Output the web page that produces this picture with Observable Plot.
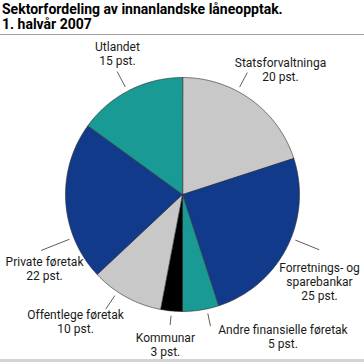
<!DOCTYPE html>
<html>
<head>
<meta charset="utf-8">
<script src="https://cdn.jsdelivr.net/npm/d3@7"></script>
<script src="https://cdn.jsdelivr.net/npm/@observablehq/plot@0.6"></script>
<style>
  html, body { margin: 0; padding: 0; background: #fff; }
  #wrap { width: 364px; height: 362px; overflow: hidden; position: relative; }
  #title { font-family: Roboto, "Liberation Sans", sans-serif; font-weight: bold; font-size: 14px; line-height: 15px; color: #000;
           padding: 2px 0 2px 2px; height: 30px; border-bottom: 1px solid #a0a0a0; }
  #chart svg { display: block; }
  #footer { position: absolute; left: 0; top: 359px; width: 364px; height: 3px; background: #d4d4d4; }
</style>
</head>
<body>
<div id="wrap">
  <div id="title">Sektorfordeling av innanlandske låneopptak.<br>1. halvår 2007</div>
  <div id="chart"></div>
  <div id="footer"></div>
</div>
<script>
// ---- data ----
const categories = ["Statsforvaltninga", "Forretnings- og sparebankar", "Andre finansielle føretak", "Kommunar", "Offentlege føretak", "Private føretak", "Utlandet"];
const labelNames = ["Statsforvaltninga", "Forretnings- og\nsparebankar", "Andre finansielle føretak", "Kommunar", "Offentlege føretak", "Private føretak", "Utlandet"];
const shares = [20, 25, 5, 3, 10, 22, 15];
const unit = "pst.";
const sliceColors = ["#c8c8c8", "#123a8b", "#1a9a95", "#000000", "#c8c8c8", "#123a8b", "#1a9a95"];

// ---- label layout (polar, relative to pie; radius in units of pie radius) ----
const leaderNudge = [-8, -5, -3, 0, 5, -18, -1];
const leaderEnd = [1.18, 1.26, 1.15, 1.12, 1.18, 1.3, 1.19];
const textAngle = [38, 122.4, 144.8, 186.5, 220, 241.8, 335.3];
const textRadius = [1.36, 1.387, 1.49, 1.29, 1.422, 1.338, 1.331];

// ---- geometry ----
const W = 364, H = 324, cx = 182, cy = 159, R = 117;
const rad = d => d * Math.PI / 180;

const arcs = d3.pie().sort(null).value(d => d.value)(categories.map((c, i) => ({name: c, value: shares[i]})));
const slicePts = [];
arcs.forEach(a => {
  slicePts.push({name: a.data.name, x: 0, y: 0});
  const n = Math.max(2, Math.ceil((a.endAngle - a.startAngle) / rad(1)));
  for (let k = 0; k <= n; k++) {
    const t = a.startAngle + (a.endAngle - a.startAngle) * k / n;
    slicePts.push({name: a.data.name, x: Math.sin(t), y: Math.cos(t)});
  }
});

const leaders = arcs.map((a, i) => {
  const t = (a.startAngle + a.endAngle) / 2 + rad(leaderNudge[i]);
  return {x1: 1.04 * Math.sin(t), y1: 1.04 * Math.cos(t), x2: leaderEnd[i] * Math.sin(t), y2: leaderEnd[i] * Math.cos(t)};
});
const labels = categories.map((c, i) => ({
  text: `${labelNames[i]}\n${shares[i]} ${unit}`,
  x: textRadius[i] * Math.sin(rad(textAngle[i])),
  y: textRadius[i] * Math.cos(rad(textAngle[i]))
}));

const chart = Plot.plot({
  width: W, height: H, margin: 0,
  x: {axis: null, domain: [-cx / R, (W - cx) / R], range: [0, W]},
  y: {axis: null, domain: [-(H - cy) / R, cy / R], range: [H, 0]},
  color: {domain: categories, range: sliceColors},
  marks: [
    Plot.line(slicePts, {x: "x", y: "y", z: "name", fill: "name", stroke: "#2b2b2b", strokeWidth: 0.6, curve: "linear-closed"}),
    Plot.link(leaders, {x1: "x1", y1: "y1", x2: "x2", y2: "y2", stroke: "#333", strokeWidth: 0.8}),
    Plot.text(labels, {x: "x", y: "y", text: "text", fontSize: 12, lineHeight: 1.17, lineAnchor: "middle", textAnchor: "middle",
      fill: "#1a1a1a", fontFamily: "Roboto, 'Liberation Sans', sans-serif"})
  ]
});
document.getElementById("chart").appendChild(chart);
</script>
</body>
</html>
